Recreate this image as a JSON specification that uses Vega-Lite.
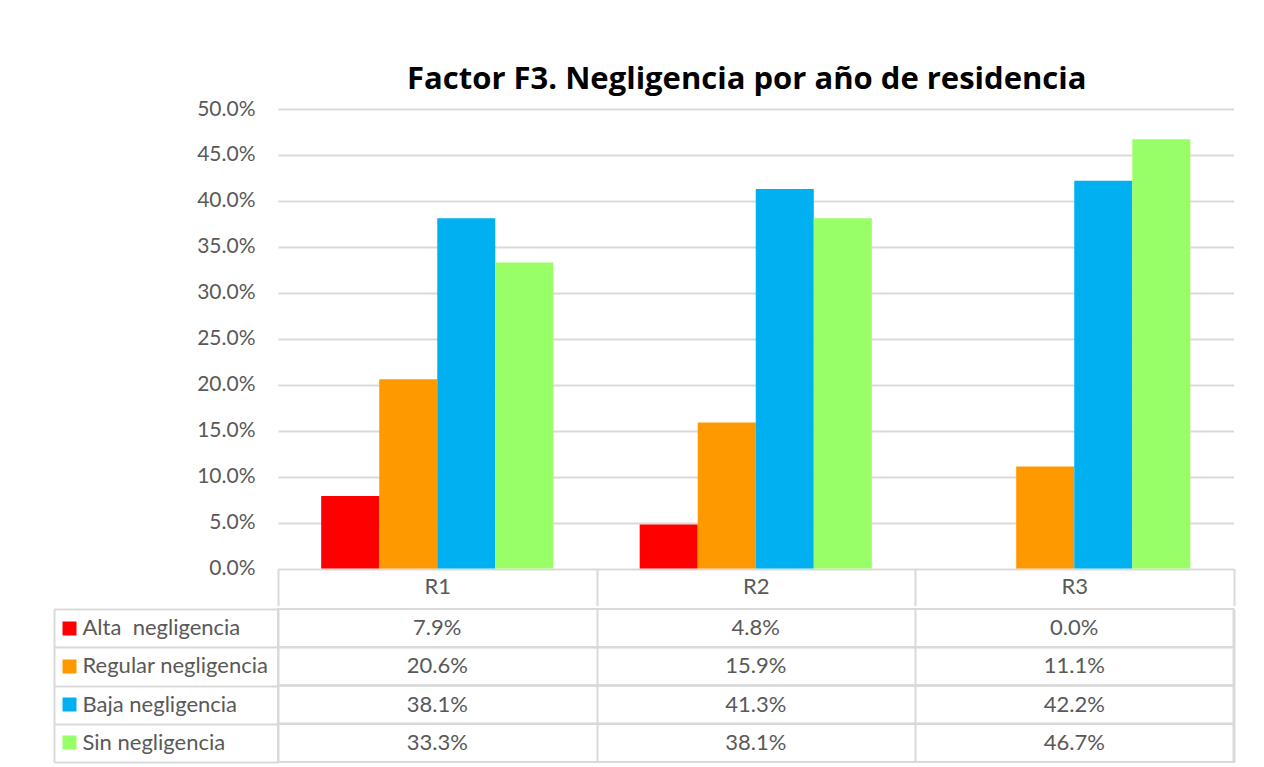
{
  "$schema": "https://vega.github.io/schema/vega-lite/v6.json",
  "padding": {"left": 52, "top": 63, "right": 5, "bottom": 2},
  "background": "white",
  "config": {"font": "Lato", "view": {"stroke": null}},
  "datasets": {
    "d": [
      {"col": "R1", "serie": "Alta  negligencia", "value": 0.079},
      {"col": "R1", "serie": "Regular negligencia", "value": 0.206},
      {"col": "R1", "serie": "Baja negligencia", "value": 0.381},
      {"col": "R1", "serie": "Sin negligencia", "value": 0.333},
      {"col": "R2", "serie": "Alta  negligencia", "value": 0.048},
      {"col": "R2", "serie": "Regular negligencia", "value": 0.159},
      {"col": "R2", "serie": "Baja negligencia", "value": 0.413},
      {"col": "R2", "serie": "Sin negligencia", "value": 0.381},
      {"col": "R3", "serie": "Alta  negligencia", "value": 0.0},
      {"col": "R3", "serie": "Regular negligencia", "value": 0.111},
      {"col": "R3", "serie": "Baja negligencia", "value": 0.422},
      {"col": "R3", "serie": "Sin negligencia", "value": 0.467}
    ]
  },
  "spacing": 0,
  "vconcat": [
    {
      "width": 955.5,
      "height": 459.5,
      "title": {
        "text": "Factor F3. Negligencia por año de residencia",
        "fontSize": 31,
        "font": "Open Sans",
        "fontWeight": "bold",
        "color": "#000000",
        "anchor": "middle",
        "frame": "group",
        "baseline": "alphabetic",
        "offset": -21.5,
        "dx": -9
      },
      "data": {"name": "d"},
      "mark": {"type": "bar"},
      "encoding": {
        "x": {
          "field": "col",
          "type": "nominal",
          "sort": ["R1", "R2", "R3"],
          "scale": {"paddingInner": 0, "paddingOuter": 0},
          "axis": {
            "title": null,
            "labelAngle": 0,
            "domain": false,
            "grid": false,
            "ticks": true,
            "tickBand": "extent",
            "tickSize": 37,
            "tickColor": "#d9d9d9",
            "tickWidth": 2,
            "labelFontSize": 22,
            "labelColor": "#595959",
            "labelBaseline": "middle",
            "labelPadding": -19
          }
        },
        "xOffset": {
          "field": "serie",
          "type": "nominal",
          "sort": ["Alta  negligencia", "Regular negligencia", "Baja negligencia", "Sin negligencia"],
          "scale": {"paddingInner": 0, "paddingOuter": 0.744}
        },
        "y": {
          "field": "value",
          "type": "quantitative",
          "scale": {"domain": [0, 0.5]},
          "axis": {
            "title": null,
            "values": [0, 0.05, 0.1, 0.15, 0.2, 0.25, 0.3, 0.35, 0.4, 0.45, 0.5],
            "format": ".1%",
            "domain": false,
            "ticks": false,
            "labelPadding": 23,
            "labelFontSize": 21,
            "labelColor": "#595959",
            "gridColor": "#d9d9d9",
            "gridWidth": 2,
            "minExtent": 224
          }
        },
        "color": {
          "field": "serie",
          "type": "nominal",
          "scale": {
            "domain": ["Alta  negligencia", "Regular negligencia", "Baja negligencia", "Sin negligencia"],
            "range": ["#ff0000", "#ff9900", "#00b0f0", "#99ff66"]
          },
          "legend": null
        }
      }
    },
    {
      "width": 955.5,
      "height": 153,
      "view": {"stroke": "#d9d9d9", "strokeWidth": 2},
      "data": {"name": "d"},
      "resolve": {"axis": {"y": "independent"}},
      "layer": [
        {
          "mark": {"type": "rule", "color": "#d9d9d9", "strokeWidth": 2},
          "encoding": {
            "y": {
              "field": "serie",
              "type": "nominal",
              "bandPosition": 0,
              "sort": ["Alta  negligencia", "Regular negligencia", "Baja negligencia", "Sin negligencia"],
              "scale": {"paddingInner": 0, "paddingOuter": 0},
              "axis": {
                "title": null,
                "orient": "left",
                "offset": 224,
                "domain": true,
                "domainColor": "#d9d9d9",
                "domainWidth": 2,
                "grid": false,
                "labels": false,
                "ticks": true,
                "tickBand": "extent",
                "tickSize": -224,
                "tickColor": "#d9d9d9",
                "tickWidth": 2
              }
            }
          }
        },
        {
          "mark": {"type": "text", "fontSize": 22, "color": "#595959", "font": "Lato"},
          "encoding": {
            "x": {
              "field": "col",
              "type": "nominal",
              "sort": ["R1", "R2", "R3"],
              "scale": {"paddingInner": 0, "paddingOuter": 0},
              "axis": {
                "title": null,
                "labels": false,
                "ticks": false,
                "domain": false,
                "grid": true,
                "tickBand": "extent",
                "gridColor": "#d9d9d9",
                "gridWidth": 2
              }
            },
            "y": {
              "field": "serie",
              "type": "nominal",
              "sort": ["Alta  negligencia", "Regular negligencia", "Baja negligencia", "Sin negligencia"],
              "scale": {"paddingInner": 0, "paddingOuter": 0},
              "axis": {
                "title": null,
                "orient": "left",
                "offset": 202,
                "domain": false,
                "grid": false,
                "ticks": true,
                "tickSize": 14,
                "tickWidth": 14,
                "tickCap": "butt",
                "tickColor": {
                  "condition": [
                    {"test": "datum.value === 'Alta  negligencia'", "value": "#ff0000"},
                    {"test": "datum.value === 'Regular negligencia'", "value": "#ff9900"},
                    {"test": "datum.value === 'Baja negligencia'", "value": "#00b0f0"}
                  ],
                  "value": "#99ff66"
                },
                "labelAlign": "left",
                "labelPadding": -20,
                "labelLimit": 300,
                "labelFontSize": 22,
                "labelColor": "#595959",
                "labelExpr": "replace(datum.label, '  ', '\u00a0 ')"
              }
            },
            "text": {"field": "value", "type": "quantitative", "format": ".1%"}
          }
        }
      ]
    }
  ]
}
